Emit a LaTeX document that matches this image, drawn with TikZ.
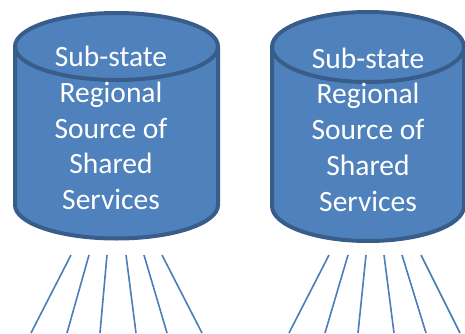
\documentclass[tikz,border=0pt]{standalone}
\usepackage{fontspec}
\setmainfont{Carlito}
\definecolor{drumfill}{HTML}{4F81BD}
\definecolor{drumedge}{HTML}{385D8A}
\definecolor{spoke}{HTML}{4A7EBB}
\tikzset{
  drum/.style={fill=drumfill, draw=drumedge, line width=4pt, line join=round},
  rim/.style={draw=drumedge, line width=4pt},
  drumtext/.style={text=white, align=center, inner sep=0pt,
    font=\fontsize{29.5}{35.8}\selectfont},
  spokeline/.style={draw=spoke, line width=1.6pt},
}
% cylinder: centre x, half width, y of top and bottom ellipse centres, half height of ellipses
\newcommand{\drawdrum}[5]{%
  \path[drum] (#1-#2,#3) -- (#1-#2,#4) arc[start angle=180,end angle=360,x radius=#2,y radius=#5]
    -- (#1+#2,#3) arc[start angle=0,end angle=180,x radius=#2,y radius=#5] -- cycle;
  \draw[rim] (#1-#2,#3) arc[start angle=180,end angle=360,x radius=#2,y radius=#5];
}
\begin{document}
\begin{tikzpicture}[x=1pt,y=1pt]
  \useasboundingbox[fill=white] (0,0) rectangle (465,333);

  % the two storage drums
  \drawdrum{116.5}{101.5}{286.5}{128}{33.5}
  \drawdrum{368}{96}{286}{127}{35}

  \node[drumtext] (leftlabel) at (111,205) {Sub-state\\Regional\\Source of\\Shared\\Services};
  \node[drumtext] (rightlabel) at (368,203.5) {Sub-state\\Regional\\Source of\\Shared\\Services};

  % fan of links under each drum
  \foreach \i/\xt/\xb in {1/71/31, 2/89/67, 3/107/100, 4/126/136, 5/144/167, 6/162/202} {
    \coordinate (lt\i) at (\xt,78);
    \coordinate (lb\i) at (\xb,0);
    \draw[spokeline] (lt\i) -- (lb\i);
  }
  \foreach \i/\xt/\xb in {1/329/289, 2/348/325, 3/366/358, 4/384/394, 5/402/426, 6/421/460} {
    \coordinate (rt\i) at (\xt,78);
    \coordinate (rb\i) at (\xb,0);
    \draw[spokeline] (rt\i) -- (rb\i);
  }
\end{tikzpicture}
\end{document}
